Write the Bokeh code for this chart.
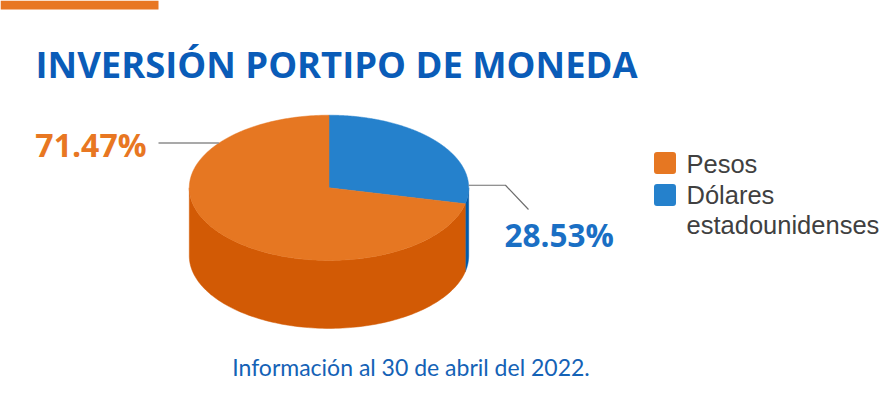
import numpy as np
from bokeh.plotting import figure
from bokeh.models import Range1d
from bokeh.core.properties import value
from bokeh.embed import file_html
from bokeh.resources import INLINE

# ---- data ----
categories = ["Pesos", "Dólares estadounidenses"]
shares = [71.47, 28.53]
share_labels = ["71.47%", "28.53%"]
legend_lines = [["Pesos"], ["Dólares", "estadounidenses"]]
title_text = "INVERSIÓN PORTIPO DE MONEDA"
subtitle_text = "Información al 30 de abril del 2022."

# ---- styles / layout ----
top_colors = ["#e67722", "#2581cc"]
side_colors = ["#d25a05", "#005aa9"]
label_colors = ["#e87722", "#1a6fc4"]
cx, cy, rx, ry, depth = 328.5, 187.3, 139.7, 72.6, 68.0

W, H = 885, 388
p = figure(width=W, height=H, x_range=Range1d(0, W), y_range=Range1d(H, 0),
           output_backend="svg", toolbar_location=None, min_border=0)
p.axis.visible = False
p.grid.visible = False
p.outline_line_color = None
p.background_fill_color = "white"
p.border_fill_color = "white"

# orange accent bar
p.quad(left=0, right=158, top=0, bottom=9, fill_color="#e87722", line_color=None)

def ell(t_deg, dy=0.0):
    t = np.radians(t_deg)
    return cx + rx * np.cos(t), cy - ry * np.sin(t) + dy

# slices drawn clockwise from 12 o'clock: Dólares first, then Pesos
order = [1, 0]
start = 90.0
spans = {}
for i in order:
    end = start - shares[i] / 100.0 * 360.0
    spans[i] = (start, end)
    start = end

# side walls (front half: angles between -180 and 0)
wall_xs, wall_ys, wall_cols = [], [], []
for i in order:
    s, e = spans[i]
    for off in (0.0, -360.0):
        a = min(s, 0.0 + off)
        b = max(e, -180.0 + off)
        if a > b:
            ts = np.linspace(a, b, 120)
            xt, yt = ell(ts)
            xb, yb = ell(ts[::-1], depth)
            wall_xs.append(list(np.concatenate([xt, xb])))
            wall_ys.append(list(np.concatenate([yt, yb])))
            wall_cols.append(side_colors[i])
p.patches(wall_xs, wall_ys, fill_color=wall_cols, line_color=wall_cols, line_width=0.5)

# top wedges
top_xs, top_ys, top_cols = [], [], []
for i in order:
    s, e = spans[i]
    ts = np.linspace(s, e, 240)
    xt, yt = ell(ts)
    top_xs.append([cx] + list(xt))
    top_ys.append([cy] + list(yt))
    top_cols.append(top_colors[i])
p.patches(top_xs, top_ys, fill_color=top_cols, line_color=top_cols, line_width=0.5)

# leader lines
ox, oy = ell(142.0)
p.line([158, ox], [oy, oy], line_color="#8c8c8c", line_width=1.5)
bx, by = ell(2.0)
p.line([bx, 505, 528], [by, by, 209], line_color="#6f6f6f", line_width=1.2)

# percentage labels
p.text(x=[146], y=[143.5], text=[share_labels[0]], text_color=label_colors[0],
       text_font=value("Open Sans"), text_font_style="bold", text_font_size="32px",
       text_align="right", text_baseline="alphabetic")
p.text(x=[504], y=[233.5], text=[share_labels[1]], text_color=label_colors[1],
       text_font=value("Open Sans"), text_font_style="bold", text_font_size="31.5px",
       text_align="left", text_baseline="alphabetic")

# title
p.text(x=[35], y=[63], text=[title_text], text_color="#0a5cb8",
       text_font=value("Open Sans"), text_font_style="bold", text_font_size="36.4px",
       text_align="left", text_baseline="alphabetic")

# subtitle
p.text(x=[410.5], y=[366.5], text=[subtitle_text], text_color="#1462b6",
       text_font=value("Lato"), text_font_size="23px",
       text_align="center", text_baseline="alphabetic")

# legend
p.scatter(x=[664.5, 664.5], y=[162.5, 194.5], marker="square", size=16,
          fill_color=[top_colors[0], top_colors[1]], line_color=[top_colors[0], top_colors[1]],
          line_width=6, line_join="round")
leg_x, leg_y, leg_t = [], [], []
base = [163, 194]
for k, lines in enumerate(legend_lines):
    for j, line in enumerate(lines):
        leg_x.append(686)
        leg_y.append(base[k] + 30 * j)
        leg_t.append(line)
p.text(x=leg_x, y=leg_y, text=leg_t, text_color="#404040",
       text_font=value("Liberation Sans"), text_font_size="25.5px",
       text_align="left", text_baseline="alphabetic")

open("out.html", "w").write(file_html(p, INLINE))
